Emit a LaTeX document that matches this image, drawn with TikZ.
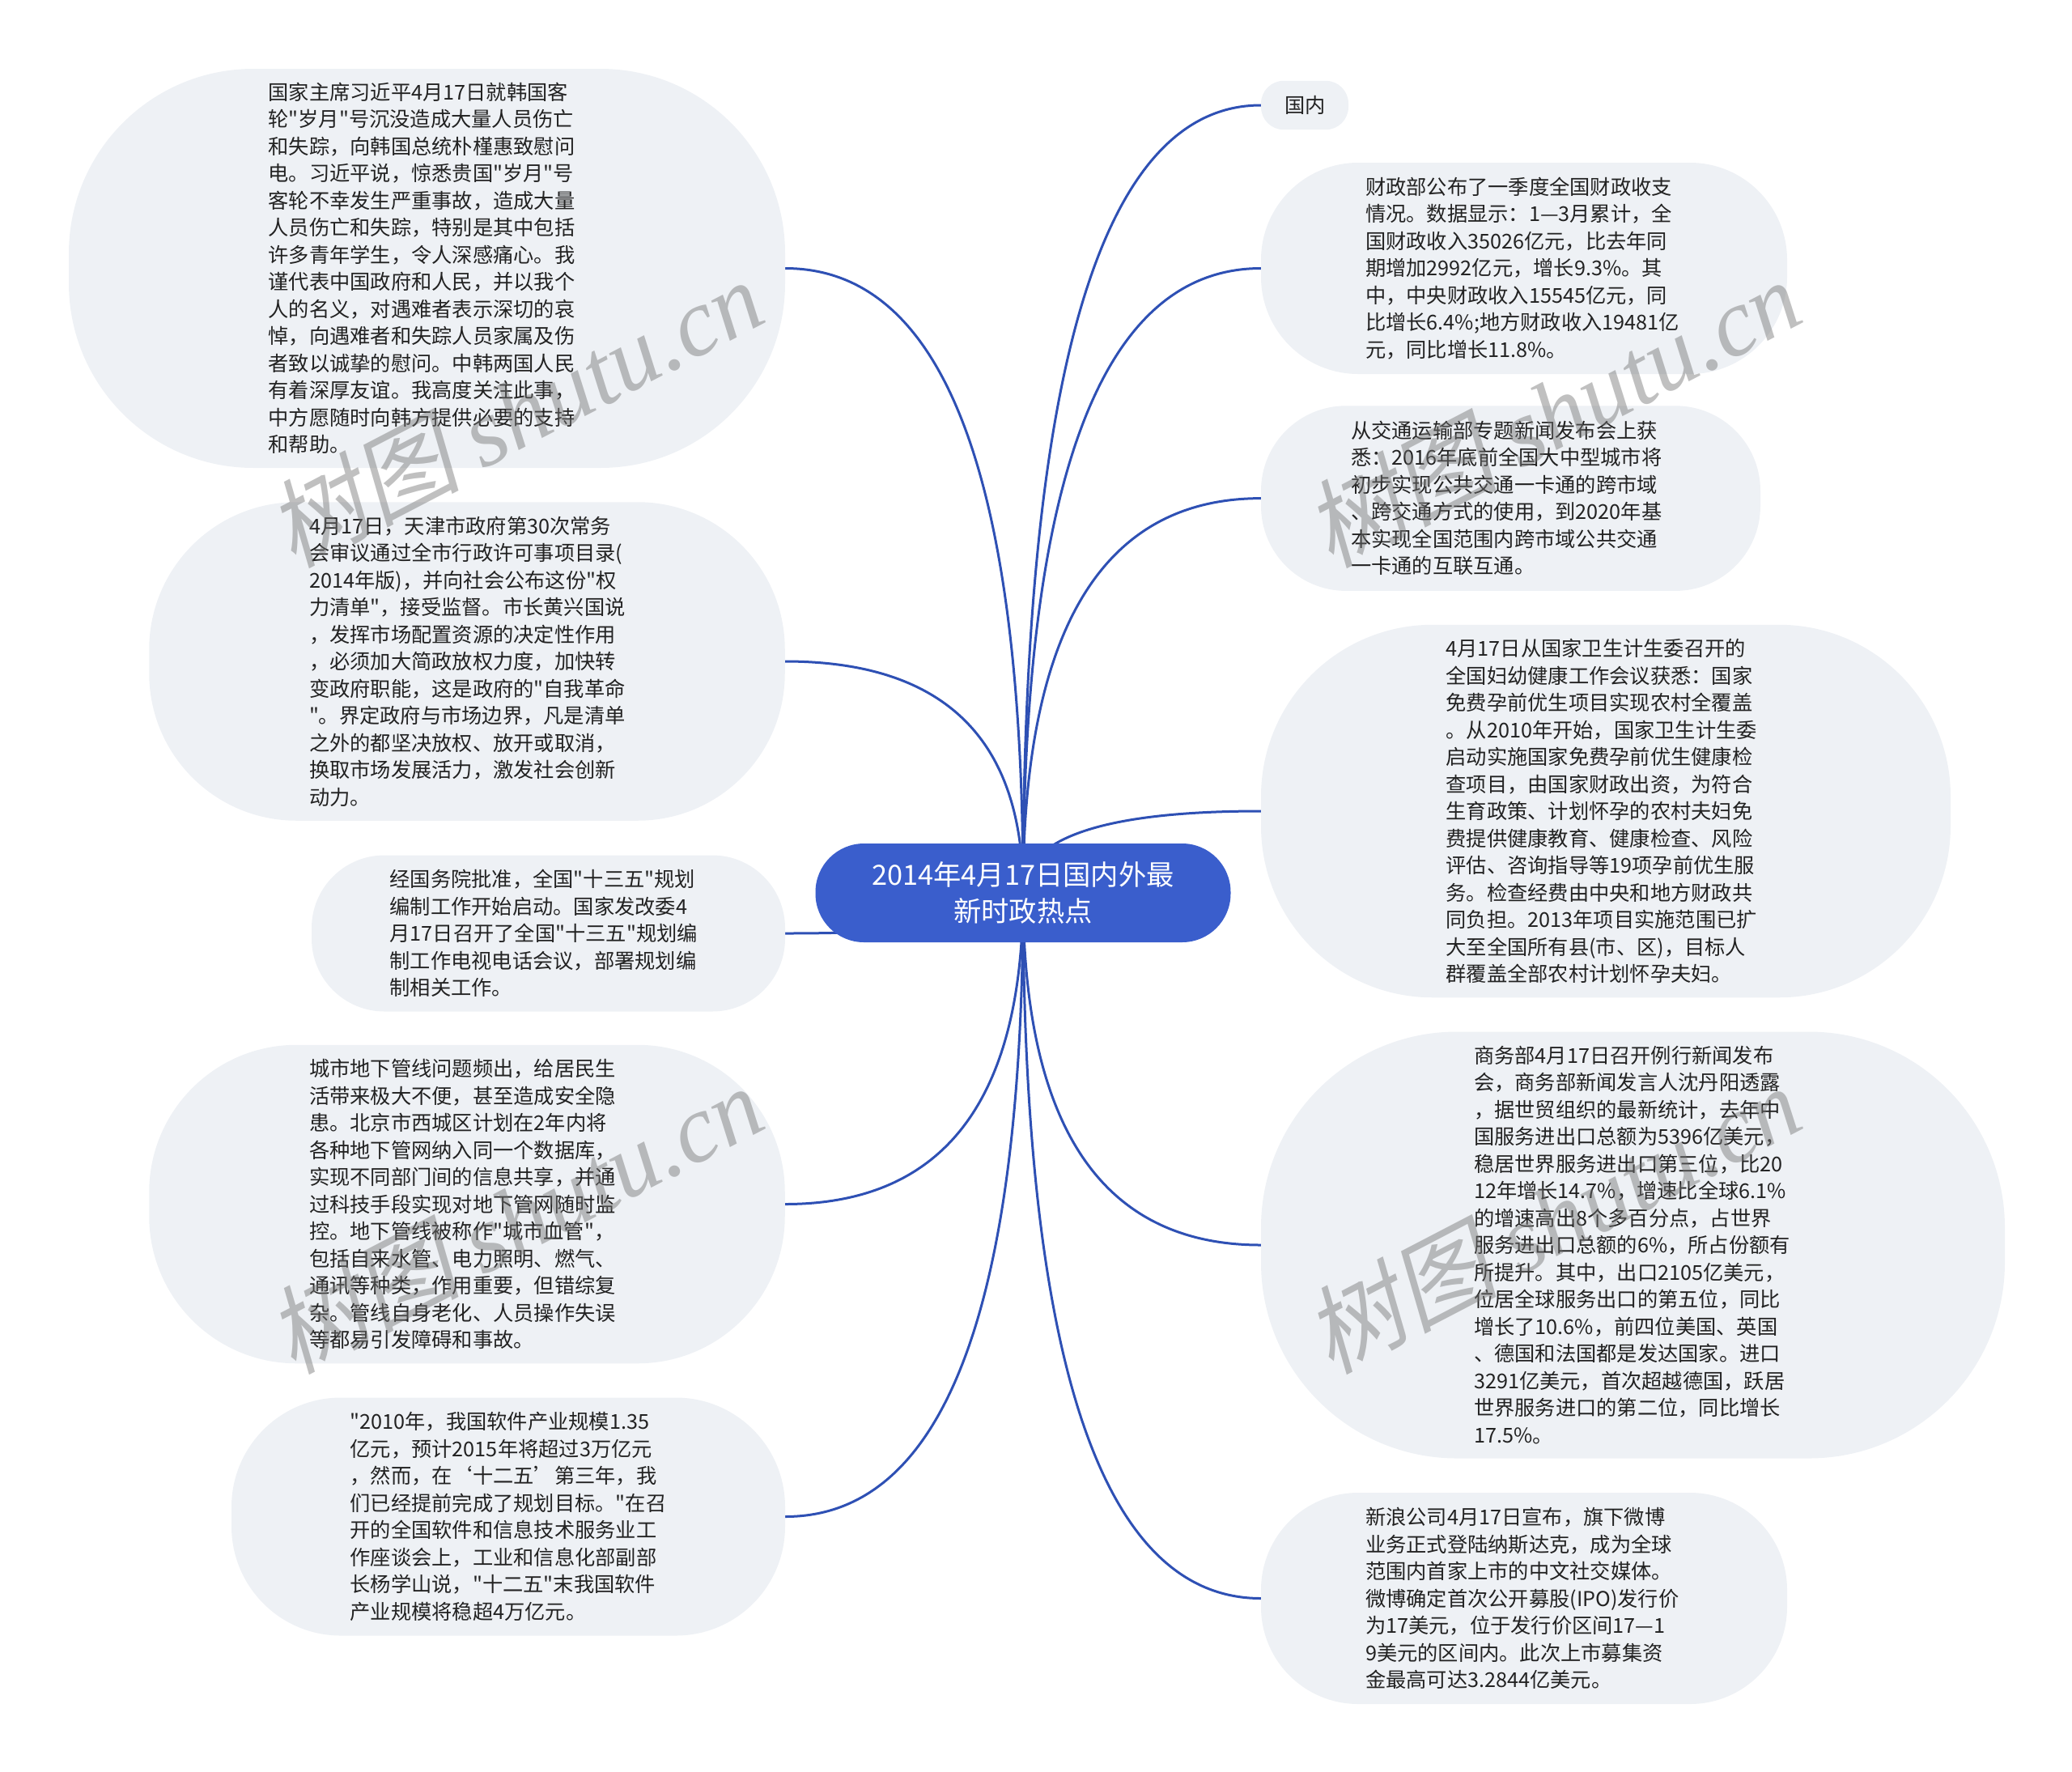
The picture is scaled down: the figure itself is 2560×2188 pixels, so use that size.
\documentclass[tikz,border=0pt]{standalone}
\usepackage{fontspec}
\setmainfont{Noto Sans CJK SC}[Ligatures=TeXOff]
\newfontfamily\wmfont{Noto Sans CJK SC}[FakeSlant=0.2]
\newfontfamily\wmlatin{Liberation Serif}
\usetikzlibrary{calc,backgrounds}
\definecolor{bubblefill}{HTML}{EEF1F5}
\definecolor{rootfill}{HTML}{3A5ECC}
\definecolor{linkcol}{HTML}{2E50B4}
\definecolor{inkcol}{HTML}{222222}
\tikzset{
  x=1pt,y=-1pt,
  bubble/.style={fill=bubblefill,text=inkcol,font=\fontsize{25.25}{33.5}\selectfont,align=left,inner sep=0pt},
  root/.style={fill=rootfill,text=white,font=\fontsize{34.3}{44.3}\selectfont,align=center,inner sep=0pt,rounded corners=60pt},
  link/.style={draw=linkcol,line width=3pt},
  wm/.style={text=black!55,opacity=.45,rotate=27.5,font=\fontsize{119}{119}\selectfont,inner sep=0pt}
}
\newcommand{\blink}[3]{\draw[link] (#1.center) .. controls ($(#1.center)!.6667!(#1.center |- #2.#3)$) and ($(#2.#3)!.6667!(#1.center |- #2.#3)$) .. (#2.#3);}
\begin{document}
\begin{tikzpicture}
\useasboundingbox (0,0) rectangle (2560,2188);
% left bubbles
\node[bubble,rounded corners=228pt,minimum width=885pt,minimum height=493pt,text width=392pt] (b1) at (527.5,331.5) {国家主席习近平4月17日就韩国客\\轮"岁月"号沉没造成大量人员伤亡\\和失踪，向韩国总统朴槿惠致慰问\\电。习近平说，惊悉贵国"岁月"号\\客轮不幸发生严重事故，造成大量\\人员伤亡和失踪，特别是其中包括\\许多青年学生，令人深感痛心。我\\谨代表中国政府和人民，并以我个\\人的名义，对遇难者表示深切的哀\\悼，向遇难者和失踪人员家属及伤\\者致以诚挚的慰问。中韩两国人民\\有着深厚友谊。我高度关注此事，\\中方愿随时向韩方提供必要的支持\\和帮助。};
\node[bubble,rounded corners=182pt,minimum width=785.5pt,minimum height=393.5pt,text width=390pt] (b2) at (577,817) {4月17日，天津市政府第30次常务\\会审议通过全市行政许可事项目录(\\2014年版)，并向社会公布这份"权\\力清单"，接受监督。市长黄兴国说\\，发挥市场配置资源的决定性作用\\，必须加大简政放权力度，加快转\\变政府职能，这是政府的"自我革命\\"。界定政府与市场边界，凡是清单\\之外的都坚决放权、放开或取消，\\换取市场发展活力，激发社会创新\\动力。};
\node[bubble,rounded corners=90pt,minimum width=585pt,minimum height=193pt,text width=391.6pt] (b3) at (677.5,1153) {经国务院批准，全国"十三五"规划\\编制工作开始启动。国家发改委4\\月17日召开了全国"十三五"规划编\\制工作电视电话会议，部署规划编\\制相关工作。};
\node[bubble,rounded corners=182pt,minimum width=785.5pt,minimum height=393.5pt,text width=390pt] (b4) at (577,1487.5) {城市地下管线问题频出，给居民生\\活带来极大不便，甚至造成安全隐\\患。北京市西城区计划在2年内将\\各种地下管网纳入同一个数据库，\\实现不同部门间的信息共享，并通\\过科技手段实现对地下管网随时监\\控。地下管线被称作"城市血管"，\\包括自来水管、电力照明、燃气、\\通讯等种类，作用重要，但错综复\\杂。管线自身老化、人员操作失误\\等都易引发障碍和事故。};
\node[bubble,rounded corners=135pt,minimum width=684pt,minimum height=294pt,text width=390.6pt] (b5) at (628,1873.5) {"2010年，我国软件产业规模1.35\\亿元，预计2015年将超过3万亿元\\，然而，在‘十二五’第三年，我\\们已经提前完成了规划目标。"在召\\开的全国软件和信息技术服务业工\\作座谈会上，工业和信息化部副部\\长杨学山说，"十二五"末我国软件\\产业规模将稳超4万亿元。};
% right bubbles
\node[bubble,rounded corners=28pt,minimum width=108pt,minimum height=60.4pt,text width=50pt] (r0) at (1612,130) {国内};
\node[bubble,rounded corners=120pt,minimum width=650pt,minimum height=261pt,text width=392pt] (r1) at (1883,331.5) {财政部公布了一季度全国财政收支\\情况。数据显示：1—3月累计，全\\国财政收入35026亿元，比去年同\\期增加2992亿元，增长9.3\%。其\\中，中央财政收入15545亿元，同\\比增长6.4\%;地方财政收入19481亿\\元，同比增长11.8\%。};
\node[bubble,rounded corners=105pt,minimum width=617pt,minimum height=228.6pt,text width=395pt] (r2) at (1866.5,615.6) {从交通运输部专题新闻发布会上获\\悉：2016年底前全国大中型城市将\\初步实现公共交通一卡通的跨市域\\、跨交通方式的使用，到2020年基\\本实现全国范围内跨市域公共交通\\一卡通的互联互通。};
\node[bubble,rounded corners=212pt,minimum width=852pt,minimum height=460.5pt,text width=395pt] (r3) at (1984,1002) {4月17日从国家卫生计生委召开的\\全国妇幼健康工作会议获悉：国家\\免费孕前优生项目实现农村全覆盖\\。从2010年开始，国家卫生计生委\\启动实施国家免费孕前优生健康检\\查项目，由国家财政出资，为符合\\生育政策、计划怀孕的农村夫妇免\\费提供健康教育、健康检查、风险\\评估、咨询指导等19项孕前优生服\\务。检查经费由中央和地方财政共\\同负担。2013年项目实施范围已扩\\大至全国所有县(市、区)，目标人\\群覆盖全部农村计划怀孕夫妇。};
\node[bubble,rounded corners=242pt,minimum width=919pt,minimum height=527pt,text width=393pt] (r4) at (2017.5,1538) {商务部4月17日召开例行新闻发布\\会，商务部新闻发言人沈丹阳透露\\，据世贸组织的最新统计，去年中\\国服务进出口总额为5396亿美元，\\稳居世界服务进出口第三位，比20\\12年增长14.7\%，增速比全球6.1\%\\的增速高出8个多百分点，占世界\\服务进出口总额的6\%，所占份额有\\所提升。其中，出口2105亿美元，\\位居全球服务出口的第五位，同比\\增长了10.6\%，前四位美国、英国\\、德国和法国都是发达国家。进口\\3291亿美元，首次超越德国，跃居\\世界服务进口的第二位，同比增长\\17.5\%。};
\node[bubble,rounded corners=120pt,minimum width=650pt,minimum height=261pt,text width=392pt] (r5) at (1883,1974.5) {新浪公司4月17日宣布，旗下微博\\业务正式登陆纳斯达克，成为全球\\范围内首家上市的中文社交媒体。\\微博确定首次公开募股(IPO)发行价\\为17美元，位于发行价区间17—1\\9美元的区间内。此次上市募集资\\金最高可达3.2844亿美元。};
\node[root,minimum width=513pt,minimum height=122pt] (root) at (1264,1103) {2014年4月17日国内外最\\新时政热点};
\begin{scope}[on background layer]
\foreach \n/\s in {b1/east,b2/east,b3/east,b4/east,b5/east,r0/west,r1/west,r2/west,r3/west,r4/west,r5/west}{
  \blink{root}{\n}{\s}
}
\end{scope}
% watermark
\node[wm] (w1) at (636,509) {\wmfont 树图 \wmlatin\itshape shutu.cn};
\node[wm] (w2) at (1918,509) {\wmfont 树图 \wmlatin\itshape shutu.cn};
\node[wm] (w3) at (636,1505) {\wmfont 树图 \wmlatin\itshape shutu.cn};
\node[wm] (w4) at (1918,1505) {\wmfont 树图 \wmlatin\itshape shutu.cn};
\end{tikzpicture}
\end{document}
